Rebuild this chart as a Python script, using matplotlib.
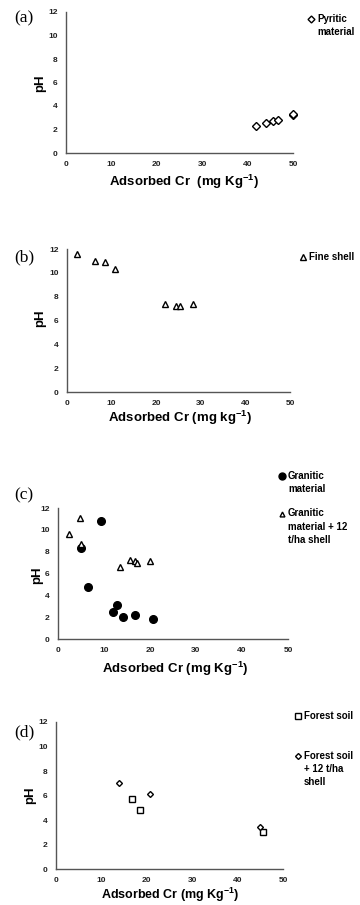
import matplotlib
matplotlib.use('Agg')
import matplotlib.pyplot as plt
from matplotlib.lines import Line2D

plt.rcParams['font.family'] = ['Liberation Sans', 'DejaVu Sans']
plt.rcParams['font.weight'] = 'bold'
plt.rcParams['mathtext.fontset'] = 'custom'
plt.rcParams['mathtext.rm'] = 'Liberation Sans:bold'
plt.rcParams['mathtext.bf'] = 'Liberation Sans:bold'
plt.rcParams['mathtext.default'] = 'rm'

# (a) pyritic material
pyr_x = [41.8, 44.1, 45.7, 46.6, 50.0, 50.0]
pyr_y = [2.3, 2.55, 2.7, 2.85, 3.2, 3.3]

# (b) fine shell
shell_x = [2.2, 6.3, 8.6, 10.7, 21.9, 24.4, 25.4, 28.2]
shell_y = [11.6, 11.0, 10.9, 10.3, 7.35, 7.2, 7.25, 7.35]

# (c) granitic material
gran_x = [4.9, 9.4, 6.6, 12.0, 12.8, 14.2, 16.8, 20.7]
gran_y = [8.3, 10.8, 4.75, 2.45, 3.1, 2.0, 2.2, 1.8]
gran_sh_x = [2.3, 4.7, 4.9, 13.4, 15.7, 16.7, 17.2, 19.9]
gran_sh_y = [9.65, 11.1, 8.7, 6.6, 7.2, 7.15, 7.0, 7.1]

# (d) forest soil
for_x = [16.8, 18.4, 45.7]
for_y = [5.7, 4.8, 3.0]
for_sh_x = [13.8, 20.6, 45.0]
for_sh_y = [7.0, 6.1, 3.4]

fig = plt.figure(figsize=(3.6, 9.05), dpi=100)
W, H = 360.0, 905.0


def make_ax(l, r, t, b):
    ax = fig.add_axes([l / W, 1 - b / H, (r - l) / W, (b - t) / H])
    ax.set_xlim(0, 50)
    ax.set_ylim(0, 12)
    ax.set_xticks([0, 10, 20, 30, 40, 50])
    ax.set_yticks([0, 2, 4, 6, 8, 10, 12])
    ax.tick_params(length=0, labelsize=6, pad=6, colors='#222222')
    for s in ['top', 'right']:
        ax.spines[s].set_visible(False)
    for s in ['left', 'bottom']:
        ax.spines[s].set_color('#555555')
        ax.spines[s].set_linewidth(1.0)
    for lab in ax.get_xticklabels() + ax.get_yticklabels():
        lab.set_fontweight('bold')
    return ax


def labels(xlab, xl_x, xl_y, yl_x, yl_y, panel, p_y, fs=9.5):
    fig.text(xl_x / W, 1 - xl_y / H, xlab, ha='center', va='center', fontsize=fs, fontweight='bold')
    fig.text(yl_x / W, 1 - yl_y / H, 'pH', ha='center', va='center', fontsize=9.5,
             fontweight='bold', rotation=90)
    fig.text(24 / W, 1 - p_y / H, panel, ha='center', va='center', fontsize=12.5,
             family='Liberation Serif', fontweight='normal')


def legend_entry(mx, my, text, **style):
    fig.add_artist(Line2D([mx / W], [1 - my / H], transform=fig.transFigure, linestyle='none',
                          markeredgecolor='black', markeredgewidth=1.0, **style))
    fig.text((mx + 6) / W, 1 - (my - 5.5) / H, text, ha='left', va='top', fontsize=7,
             fontweight='bold', linespacing=1.4)


mk = dict(linestyle='none', markeredgecolor='black', markeredgewidth=1.0, clip_on=False)

# (a)
ax = make_ax(66, 293, 12, 153)
ax.plot(pyr_x, pyr_y, marker='D', markersize=4, markerfacecolor='white', **mk)
labels(r'Adsorbed Cr  (mg Kg$^{-1}$)', 184, 182, 40, 83, '(a)', 18)
legend_entry(311, 19, 'Pyritic\nmaterial', marker='D', markersize=3.5, markerfacecolor='white')

# (b)
ax = make_ax(67, 290, 249, 392)
ax.plot(shell_x, shell_y, marker='^', markersize=4.5, markerfacecolor='white', **mk)
labels(r'Adsorbed Cr (mg kg$^{-1}$)', 180, 418, 40, 318, '(b)', 257)
legend_entry(303, 257, 'Fine shell', marker='^', markersize=4, markerfacecolor='white')

# (c)
ax = make_ax(58, 288, 508, 639)
ax.plot(gran_x, gran_y, marker='o', markersize=5.5, markerfacecolor='black', **mk)
ax.plot(gran_sh_x, gran_sh_y, marker='^', markersize=4, markerfacecolor='white', **mk)
labels(r'Adsorbed Cr (mg Kg$^{-1}$)', 175, 669, 37, 575, '(c)', 495)
legend_entry(282, 476, 'Granitic\nmaterial', marker='o', markersize=5, markerfacecolor='black')
legend_entry(282, 514, 'Granitic\nmaterial + 12\nt/ha shell', marker='^', markersize=3.5,
             markerfacecolor='white')

# (d)
ax = make_ax(56, 283, 722, 869)
ax.plot(for_x, for_y, marker='s', markersize=5, markerfacecolor='white', **mk)
ax.plot(for_sh_x, for_sh_y, marker='D', markersize=3, markerfacecolor='white', **mk)
labels(r'Adsorbed Cr (mg Kg$^{-1}$)', 170, 895, 30, 795, '(d)', 732, fs=9)
legend_entry(298, 716, 'Forest soil', marker='s', markersize=4.5, markerfacecolor='white')
legend_entry(298, 756, 'Forest soil\n+ 12 t/ha\nshell', marker='D', markersize=3,
             markerfacecolor='white')

fig.savefig('out.png', dpi=100)
